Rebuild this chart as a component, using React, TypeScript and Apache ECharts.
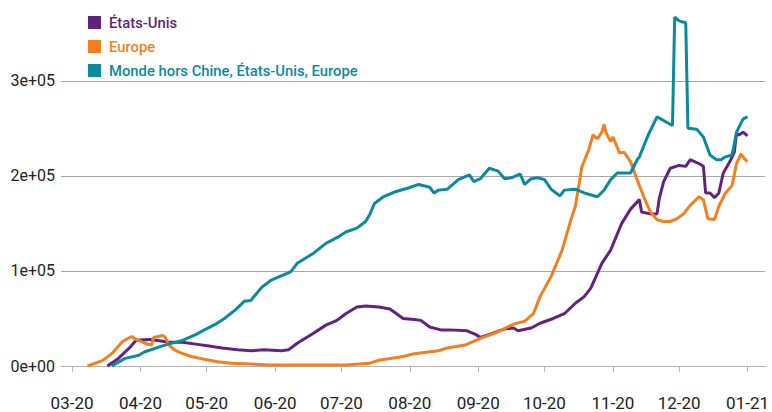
import React, { useEffect, useRef } from "react";
import * as echarts from "echarts";

// Values in thousands of cases
const usDates = [
  "2020-03-17","2020-03-22","2020-03-27","2020-03-30","2020-04-05","2020-04-08","2020-04-14","2020-04-20",
  "2020-04-26","2020-05-02","2020-05-08","2020-05-15","2020-05-21","2020-05-27","2020-06-04","2020-06-07",
  "2020-06-11","2020-06-18","2020-06-24","2020-06-29","2020-07-03","2020-07-08","2020-07-12","2020-07-18",
  "2020-07-23","2020-07-29","2020-08-03","2020-08-06","2020-08-10","2020-08-15","2020-08-19","2020-08-27",
  "2020-08-31","2020-09-02","2020-09-07","2020-09-13","2020-09-17","2020-09-19","2020-09-25","2020-09-29",
  "2020-10-05","2020-10-10","2020-10-15","2020-10-19","2020-10-22","2020-10-27","2020-10-31","2020-11-05",
  "2020-11-09","2020-11-13","2020-11-14","2020-11-18","2020-11-21","2020-11-22","2020-11-24","2020-11-27",
  "2020-12-01","2020-12-04","2020-12-06","2020-12-10","2020-12-12","2020-12-13","2020-12-15","2020-12-17",
  "2020-12-19","2020-12-21","2020-12-24","2020-12-26","2020-12-27","2020-12-28","2020-12-30","2021-01-01"
];
const usValues = [
  0, 8, 19, 27, 28, 27, 25, 25,
  23, 21, 19, 17, 16, 17, 16, 17,
  24, 34, 43, 48, 55, 62, 63, 62,
  60, 50, 49, 48, 41, 38, 38, 37,
  33, 30, 34, 39, 40, 37, 40, 45,
  50, 55, 66, 73, 82, 108, 122, 150,
  165, 175, 162, 160, 160, 176, 194, 208,
  211, 210, 217, 213, 210, 182, 182, 177,
  182, 203, 215, 225, 245, 243, 246, 242
];

const euDates = [
  "2020-03-08","2020-03-15","2020-03-19","2020-03-24","2020-03-28","2020-03-30","2020-04-03","2020-04-06",
  "2020-04-07","2020-04-11","2020-04-12","2020-04-14","2020-04-16","2020-04-19","2020-04-24","2020-04-30",
  "2020-05-06","2020-05-12","2020-05-21","2020-05-30","2020-06-14","2020-06-29","2020-07-03","2020-07-14",
  "2020-07-18","2020-07-29","2020-08-03","2020-08-14","2020-08-18","2020-08-26","2020-09-02","2020-09-10",
  "2020-09-17","2020-09-22","2020-09-26","2020-09-29","2020-10-04","2020-10-09","2020-10-13","2020-10-15",
  "2020-10-18","2020-10-21","2020-10-23","2020-10-25","2020-10-27","2020-10-28","2020-10-29","2020-10-31",
  "2020-11-01","2020-11-04","2020-11-06","2020-11-09","2020-11-12","2020-11-15","2020-11-18","2020-11-21",
  "2020-11-24","2020-11-27","2020-11-30","2020-12-03","2020-12-06","2020-12-10","2020-12-12","2020-12-14",
  "2020-12-17","2020-12-19","2020-12-22","2020-12-25","2020-12-27","2020-12-29","2020-12-31","2021-01-01"
];
const euValues = [
  0, 6, 13, 26, 31, 28, 24, 22,
  30, 32, 31, 22, 17.5, 14, 10, 7,
  4.5, 2.8, 2, 1, 1, 1, 1, 3,
  6, 10, 13, 16, 19, 22, 29, 36,
  44, 47, 55, 73, 94, 122, 154, 168,
  210, 227, 243, 239, 246, 254, 245, 236,
  241, 224, 225, 215, 196, 178, 162, 154,
  152, 152, 155, 160, 169, 178, 175, 155,
  154, 168, 182, 190, 213, 223, 217, 215
];

const worldDates = [
  "2020-03-19","2020-03-25","2020-03-31","2020-04-03","2020-04-12","2020-04-20","2020-04-26","2020-04-30",
  "2020-05-05","2020-05-09","2020-05-14","2020-05-18","2020-05-21","2020-05-26","2020-05-30","2020-06-04",
  "2020-06-08","2020-06-11","2020-06-18","2020-06-24","2020-06-29","2020-07-03","2020-07-08","2020-07-12",
  "2020-07-14","2020-07-16","2020-07-20","2020-07-25","2020-07-31","2020-08-05","2020-08-10","2020-08-12",
  "2020-08-14","2020-08-18","2020-08-23","2020-08-28","2020-08-30","2020-09-02","2020-09-06","2020-09-10",
  "2020-09-13","2020-09-16","2020-09-20","2020-09-22","2020-09-25","2020-09-28","2020-10-01","2020-10-04",
  "2020-10-08","2020-10-10","2020-10-15","2020-10-19","2020-10-25","2020-10-28","2020-10-31","2020-11-03",
  "2020-11-09","2020-11-12","2020-11-13","2020-11-17","2020-11-21","2020-11-28","2020-11-29","2020-12-01",
  "2020-12-04","2020-12-05","2020-12-09","2020-12-12","2020-12-15","2020-12-18","2020-12-20","2020-12-22",
  "2020-12-25","2020-12-27","2020-12-30","2021-01-01"
];
const worldValues = [
  0, 8, 11, 15, 22, 27, 33, 38,
  44, 50, 59, 68, 69, 83, 90, 95,
  99, 108, 118, 129, 135, 141, 145, 152,
  160, 171, 178, 183, 187, 191, 188, 182,
  185, 186, 196, 201, 194, 197, 208, 205,
  197, 198, 202, 191, 197, 198, 196, 186,
  179, 185, 186, 182, 178, 185, 196, 203,
  203, 217, 220, 243, 262, 253, 367, 363,
  361, 250, 249, 241, 222, 217, 217, 220,
  222, 246, 260, 262
];

const seriesNames = ["États-Unis", "Europe", "Monde hors Chine, États-Unis, Europe"];
const seriesColors = ["#62237f", "#f47f20", "#0b8a9e"];
const yTicks = [0, 100000, 200000, 300000];

function toPairs(dates: string[], values: number[]) {
  return dates.map((d, i) => [d, values[i] * 1000]);
}

function sci(v: number) {
  if (v === 0) return "0e+00";
  const e = Math.floor(Math.log10(Math.abs(v)) + 1e-9);
  const m = Math.round(v / Math.pow(10, e));
  return `${m}e+${String(e).padStart(2, "0")}`;
}

export default function App() {
  const ref = useRef<HTMLDivElement>(null);
  useEffect(() => {
    if (!ref.current) return;
    const chart = echarts.init(ref.current, null, { renderer: "svg" });
    const data = [
      toPairs(usDates, usValues),
      toPairs(euDates, euValues),
      toPairs(worldDates, worldValues),
    ];
    chart.setOption({
      animation: false,
      backgroundColor: "#ffffff",
      textStyle: { fontFamily: "Roboto" },
      grid: { left: 61, right: 4, top: 0, bottom: 46, containLabel: false },
      legend: {
        orient: "vertical",
        left: 83,
        top: 10,
        itemWidth: 13,
        itemHeight: 13,
        itemGap: 9,
        icon: "rect",
        selectedMode: false,
        data: seriesNames.map((n, i) => ({
          name: n,
          itemStyle: { color: seriesColors[i] },
          textStyle: {
            color: seriesColors[i],
            fontSize: 14.8,
            fontWeight: 500,
            fontFamily: "Roboto",
            padding: [0, 0, 0, 3],
          },
        })),
      },
      xAxis: {
        type: "time",
        min: new Date(2020, 1, 25).getTime(),
        max: new Date(2021, 0, 9).getTime(),
        offset: 16,
        minInterval: 28 * 24 * 3600 * 1000,
        maxInterval: 31 * 24 * 3600 * 1000,
        splitLine: { show: false },
        axisLine: { show: true, lineStyle: { color: "#b3b3b3", width: 1 } },
        axisTick: { show: true, length: 6, lineStyle: { color: "#b3b3b3" } },
        axisLabel: {
          fontSize: 17,
          color: "#222",
          margin: 12,
          fontFamily: "Roboto",
          formatter: (v: number) => {
            const d = new Date(v);
            const mm = String(d.getMonth() + 1).padStart(2, "0");
            const yy = String(d.getFullYear() % 100).padStart(2, "0");
            return `${mm}-${yy}`;
          },
        },
      },
      yAxis: {
        type: "value",
        min: 0,
        max: 385000,
        interval: 100000,
        axisLine: { show: false },
        axisTick: { show: false },
        splitLine: {
          show: true,
          showMaxLine: false,
          lineStyle: { color: "#a8a8a8", width: 1 },
        },
        axisLabel: {
          fontSize: 16,
          color: "#222",
          margin: 6,
          fontFamily: "Roboto",
          showMaxLabel: false,
          formatter: (v: number) => (yTicks.includes(v) ? sci(v) : ""),
        },
      },
      series: seriesNames.map((n, i) => ({
        name: n,
        type: "line",
        data: data[i],
        showSymbol: false,
        symbol: "none",
        color: seriesColors[i],
        lineStyle: { width: 3, color: seriesColors[i] },
      })),
    });
    return () => chart.dispose();
  }, []);
  return (
    <div
      ref={ref}
      style={{ position: "fixed", left: 0, top: 0, width: 772, height: 412 }}
    />
  );
}
